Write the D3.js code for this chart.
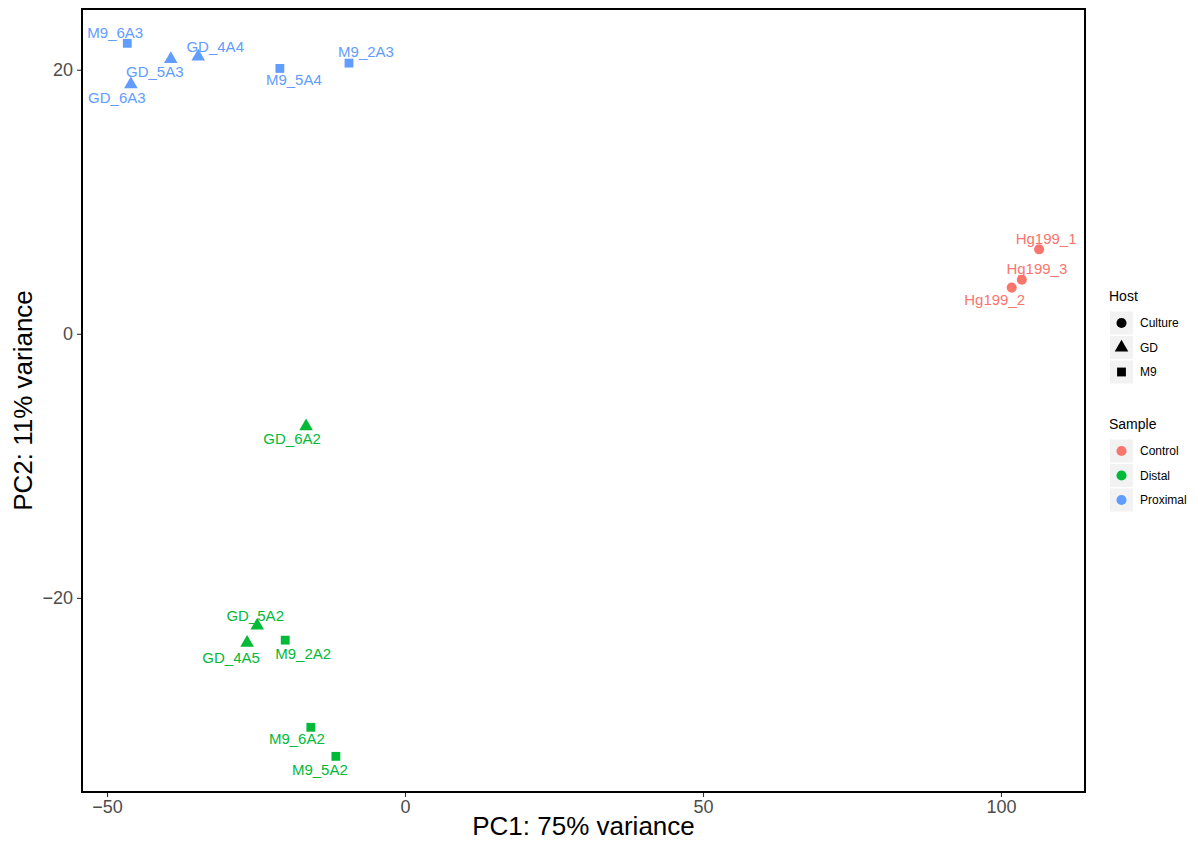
<!DOCTYPE html>
<html>
<head>
<meta charset="utf-8">
<script src="https://cdn.jsdelivr.net/npm/d3@7"></script>
<style>
  body { margin: 0; background: #fff; }
  text { font-family: "Liberation Sans", Arial, sans-serif; }
</style>
</head>
<body>
<div id="chart"></div>
<script>
// PCA coordinates
const names = ["M9_6A3", "GD_5A3", "GD_4A4", "GD_6A3", "M9_5A4", "M9_2A3",
  "Hg199_1", "Hg199_3", "Hg199_2",
  "GD_6A2", "GD_5A2", "GD_4A5", "M9_2A2", "M9_6A2", "M9_5A2"];
const pc1 = [-46.6, -39.3, -34.7, -46.0, -21.0, -9.4,
  106.4, 103.5, 101.8,
  -16.6, -24.8, -26.5, -20.1, -15.8, -11.6];
const pc2 = [22.0, 20.8, 21.0, 18.9, 20.1, 20.5,
  6.4, 4.1, 3.5,
  -7.0, -22.1, -23.4, -23.2, -29.8, -32.0];
const hosts = ["M9", "GD", "GD", "GD", "M9", "M9",
  "Culture", "Culture", "Culture",
  "GD", "GD", "GD", "M9", "M9", "M9"];
const samples = ["Proximal", "Proximal", "Proximal", "Proximal", "Proximal", "Proximal",
  "Control", "Control", "Control",
  "Distal", "Distal", "Distal", "Distal", "Distal", "Distal"];

// label nudges in pixels (text placement, like ggrepel did it)
const labelDx = [-12, -16, 17, -14, 14, 17, 7, 15, -17, -14, -2, -16, 18, -14, -16];
const labelDy = [-11, 12, -10, 13, 11, -12, -11, -11, 12, 12, -10, 15, 13, 11, 13];

const hostLevels = ["Culture", "GD", "M9"];
const sampleLevels = ["Control", "Distal", "Proximal"];
const sampleColors = ["#F8766D", "#00BA38", "#619CFF"];
const xTicks = [-50, 0, 50, 100];
const yTicks = [-20, 0, 20];

const W = 1198, H = 843;
const panel = { left: 82, top: 9, right: 1085, bottom: 792 };

const svg = d3.select("#chart").append("svg")
  .attr("width", W).attr("height", H);

const x = d3.scaleLinear().domain([-54.2, 114.1]).range([panel.left, panel.right]);
const y = d3.scaleLinear().domain([-34.7, 24.6]).range([panel.bottom, panel.top]);

const color = d3.scaleOrdinal().domain(sampleLevels).range(sampleColors);
const shape = d3.scaleOrdinal().domain(hostLevels)
  .range([d3.symbolCircle, d3.symbolTriangle, d3.symbolSquare]);
const shapeSize = d3.scaleOrdinal().domain(hostLevels).range([80, 80, 78]);

const data = names.map((n, i) => ({
  name: n, x: pc1[i], y: pc2[i], host: hosts[i], sample: samples[i],
  dx: labelDx[i], dy: labelDy[i]
}));

const minus = d => d < 0 ? "\u2212" + Math.abs(d) : d;

// axes
const xAxis = svg.append("g")
  .attr("transform", `translate(0,${panel.bottom})`)
  .call(d3.axisBottom(x).tickValues(xTicks).tickSize(5).tickPadding(3).tickFormat(minus));
const yAxis = svg.append("g")
  .attr("transform", `translate(${panel.left},0)`)
  .call(d3.axisLeft(y).tickValues(yTicks).tickSize(5).tickPadding(4).tickFormat(minus));
[xAxis, yAxis].forEach(a => {
  a.select(".domain").remove();
  a.selectAll(".tick line").attr("stroke", "#333").attr("stroke-width", 1.1);
  a.selectAll(".tick text").attr("fill", "#4D4D4D").style("font-size", "18px");
});

// panel border
svg.append("rect")
  .attr("x", panel.left).attr("y", panel.top)
  .attr("width", panel.right - panel.left).attr("height", panel.bottom - panel.top)
  .attr("fill", "none").attr("stroke", "#000").attr("stroke-width", 2);

// points
svg.append("g").selectAll("path")
  .data(data).enter().append("path")
  .attr("transform", d => `translate(${x(d.x)},${y(d.y)})`)
  .attr("d", d => d3.symbol().type(shape(d.host)).size(shapeSize(d.host))())
  .attr("fill", d => color(d.sample));

// labels
svg.append("g").selectAll("text")
  .data(data).enter().append("text")
  .attr("x", d => x(d.x) + d.dx)
  .attr("y", d => y(d.y) + d.dy)
  .attr("text-anchor", "middle")
  .attr("dominant-baseline", "central")
  .attr("fill", d => color(d.sample))
  .style("font-size", "15px")
  .text(d => d.name);

// axis titles
svg.append("text")
  .attr("x", (panel.left + panel.right) / 2).attr("y", 835)
  .attr("text-anchor", "middle").style("font-size", "26px").attr("fill", "#000")
  .text("PC1: 75% variance");
svg.append("text")
  .attr("transform", `translate(32,${(panel.top + panel.bottom) / 2}) rotate(-90)`)
  .attr("text-anchor", "middle").style("font-size", "26px").attr("fill", "#000")
  .text("PC2: 11% variance");

// legends
function legend(title, levels, top, draw) {
  const g = svg.append("g").attr("transform", `translate(1109,${top})`);
  g.append("text").attr("x", 0).attr("y", 0).attr("dy", "0.35em")
    .style("font-size", "14px").attr("fill", "#000").text(title);
  const rows = g.selectAll(".row").data(levels).enter().append("g")
    .attr("transform", (d, i) => `translate(0,${27 + i * 24.5})`);
  rows.append("rect").attr("x", 1).attr("y", -11.5).attr("width", 23).attr("height", 23)
    .attr("fill", "#F2F2F2");
  rows.append("path").attr("transform", "translate(12.5,0)").each(draw);
  rows.append("text").attr("x", 31).attr("dy", "0.35em")
    .style("font-size", "12px").attr("fill", "#000").text(d => d);
}
legend("Host", hostLevels, 296, function (d) {
  d3.select(this).attr("d", d3.symbol().type(shape(d)).size(shapeSize(d))()).attr("fill", "#000");
});
legend("Sample", sampleLevels, 424, function (d) {
  d3.select(this).attr("d", d3.symbol().type(d3.symbolCircle).size(80)()).attr("fill", color(d));
});
</script>
</body>
</html>
